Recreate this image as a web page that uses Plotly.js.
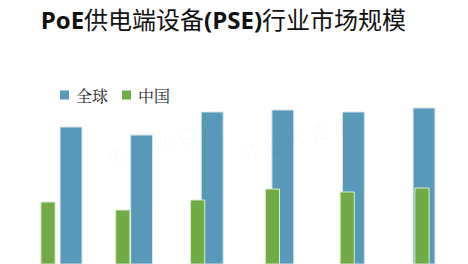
<!DOCTYPE html>
<html>
<head>
<meta charset="utf-8">
<script src="https://cdn.plot.ly/plotly-3.0.1.min.js"></script>
<style>html,body{margin:0;padding:0;background:#fff;}#chart{width:468px;height:264px;}</style>
</head>
<body>
<div id="chart"></div>
<script>
const categories = [0, 1, 2, 3, 4, 5];
const globalValues = [13.7, 12.9, 15.2, 15.4, 15.2, 15.6];
const chinaValues = [6.2, 5.4, 6.4, 7.5, 7.2, 7.6];
const seriesNames = ["全球", "中国"];
const seriesColors = ["#5898b8", "#70ab46"];

const W = 468, H = 264;
const px = v => v / W;
const py = v => 1 - v / H;

const traces = [
  {
    type: "bar", name: seriesNames[0], x: categories, y: globalValues,
    xaxis: "x", yaxis: "y", width: 0.31,
    marker: {color: seriesColors[0], line: {color: "#d6e6ef", width: 1}},
    hoverinfo: "skip"
  },
  {
    type: "bar", name: seriesNames[1], x: categories, y: chinaValues,
    xaxis: "x2", yaxis: "y", width: 0.19,
    marker: {color: seriesColors[1], line: {color: "#dcecd0", width: 1}},
    hoverinfo: "skip"
  }
];

const wm = {family: "Noto Sans CJK SC", size: 20, color: "rgba(0,0,0,0.03)"};
const legFont = {family: "Noto Serif CJK SC, Noto Sans CJK SC, serif", size: 16, color: "#1a1a1a"};

// custom legend (square + label) built from series names/colors
const legendItems = [
  {sq: [60, 69], tx: 74},
  {sq: [122, 131], tx: 136}
];
const shapes = legendItems.map((it, i) => ({
  type: "rect", xref: "paper", yref: "paper",
  x0: px(it.sq[0]), x1: px(it.sq[1]), y0: py(99.5), y1: py(90.5),
  fillcolor: seriesColors[i], line: {width: 0}
}));
const legendAnn = legendItems.map((it, i) => ({
  text: seriesNames[i], xref: "paper", yref: "paper",
  x: px(it.tx), y: py(95), xanchor: "left", yanchor: "middle",
  showarrow: false, font: legFont
}));

const layout = {
  width: W, height: H,
  margin: {l: 0, r: 0, t: 0, b: 0, pad: 0},
  paper_bgcolor: "#ffffff", plot_bgcolor: "#ffffff",
  showlegend: false,
  barmode: "overlay",
  title: {
    text: "<b>PoE</b>供电端设备<b>(PSE)</b>行业市场规模",
    font: {family: "Open Sans, Noto Sans CJK SC, sans-serif", size: 24, color: "#111111"},
    x: 0.087, xanchor: "left", xref: "paper",
    y: 0.922, yanchor: "middle", yref: "container"
  },
  xaxis: {range: [-1.006, 5.623], visible: false, fixedrange: true},
  xaxis2: {range: [-0.642, 5.615], overlaying: "x", visible: false, fixedrange: true},
  yaxis: {range: [0, 26.4], visible: false, fixedrange: true},
  shapes: shapes,
  annotations: legendAnn.concat([
    {text: "贝 哲 斯 咨 询", xref: "paper", yref: "paper", x: px(100), y: py(142), showarrow: false, textangle: -17, font: wm},
    {text: "贝 哲 斯 咨 询", xref: "paper", yref: "paper", x: px(358), y: py(138), showarrow: false, textangle: -17, font: wm}
  ])
};

Plotly.newPlot("chart", traces, layout, {displayModeBar: false, staticPlot: true});
</script>
</body>
</html>
